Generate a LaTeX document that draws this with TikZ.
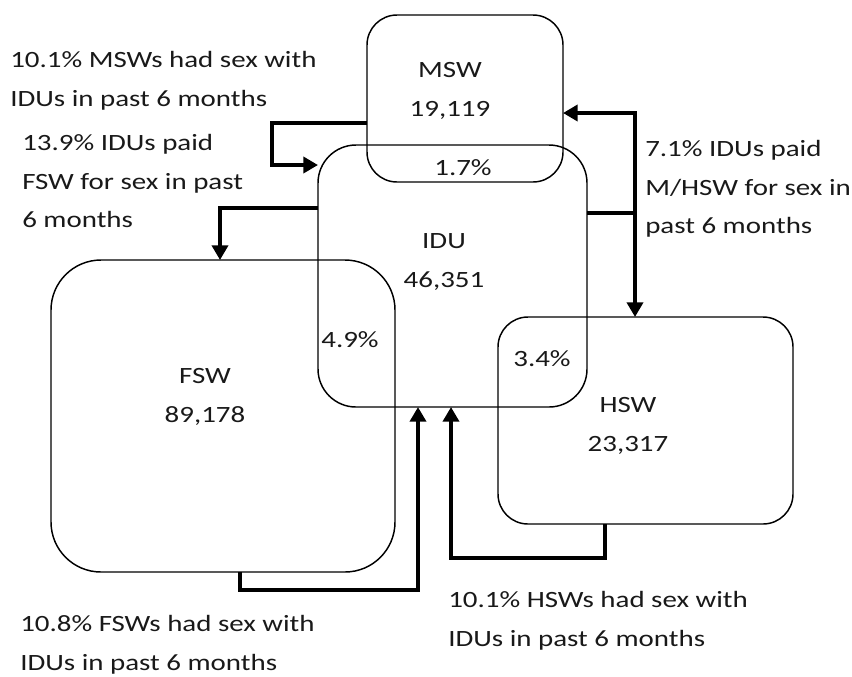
\documentclass[tikz,border=0pt]{standalone}
\usepackage{fontspec}
\setmainfont{Carlito}[FakeStretch=1.24]
\usetikzlibrary{arrows.meta}
\tikzset{
  grp/.style={draw,rounded corners=#1,inner sep=0pt,outer sep=0pt,line width=1.1pt},
  flow/.style={line width=3pt,-{Triangle[length=11pt,width=12pt]}},
  txt/.style={text=black!90,font=\fontsize{17.5}{29}\selectfont,align=left,inner sep=0pt},
  lbl/.style={txt,align=center}
}
\begin{document}
\begin{tikzpicture}[x=0.75pt,y=-0.75pt]
\useasboundingbox (0,0) rectangle (852,676);
% population boxes
\node[grp=22.5pt,minimum width=147pt,minimum height=125.25pt] (msw) at (465,98.5) {};
\node[grp=28.5pt,minimum width=201.75pt,minimum height=196.5pt] (idu) at (452.5,276) {};
\node[grp=37.5pt,minimum width=258pt,minimum height=234pt] (fsw) at (223,416) {};
\node[grp=22.5pt,minimum width=221.25pt,minimum height=155.25pt] (hsw) at (645.5,420.5) {};
\node[lbl] (mswlbl) at (450,91) {MSW\\19,119};
\node[lbl] (idulbl) at (444,262) {IDU\\46,351};
\node[lbl] (fswlbl) at (205,397) {FSW\\89,178};
\node[lbl] (hswlbl) at (628,426) {HSW\\23,317};
\node[lbl] (ovmsw) at (463,168) {1.7\%};
\node[lbl] (ovfsw) at (350,340) {4.9\%};
\node[lbl] (ovhsw) at (542,359) {3.4\%};
% bends of the connectors
\coordinate (k1) at (272,123);
\coordinate (k2) at (272,165);
\coordinate (k3) at (220,208);
\coordinate (split) at (635,213);
\coordinate (k4) at (635,113);
\coordinate (k5) at (240,590);
\coordinate (k6) at (418,590);
\coordinate (k7) at (605,558);
\coordinate (k8) at (451,558);
\draw[flow] (msw.west |- k1) -- (k1) -- (k2) -- (idu.west |- k2);
\draw[flow] (idu.west |- k3) -| (fsw.north -| k3);
\draw[line width=3pt] (idu.east |- split) -- (split);
\draw[flow] (split) -- (k4) -- (msw.east |- k4);
\draw[flow] (split) -- (hsw.north -| split);
\draw[flow] (fsw.south -| k5) -- (k5) -- (k6) -- (idu.south -| k6);
\draw[flow] (hsw.south -| k7) -- (k7) -- (k8) -- (idu.south -| k8);
% notes
\node[txt,anchor=west] (n1) at (10,81) {10.1\% MSWs had sex with\\IDUs in past 6 months};
\node[txt,anchor=west] (n2) at (22,181) {13.9\% IDUs paid\\FSW for sex in past\\6 months};
\node[txt,anchor=west] (n3) at (645,189) {7.1\% IDUs paid\\M/HSW for sex in\\past 6 months};
\node[txt,anchor=west] (n4) at (20,645) {10.8\% FSWs had sex with\\IDUs in past 6 months};
\node[txt,anchor=west] (n5) at (448,621) {10.1\% HSWs had sex with\\IDUs in past 6 months};
\end{tikzpicture}
\end{document}
